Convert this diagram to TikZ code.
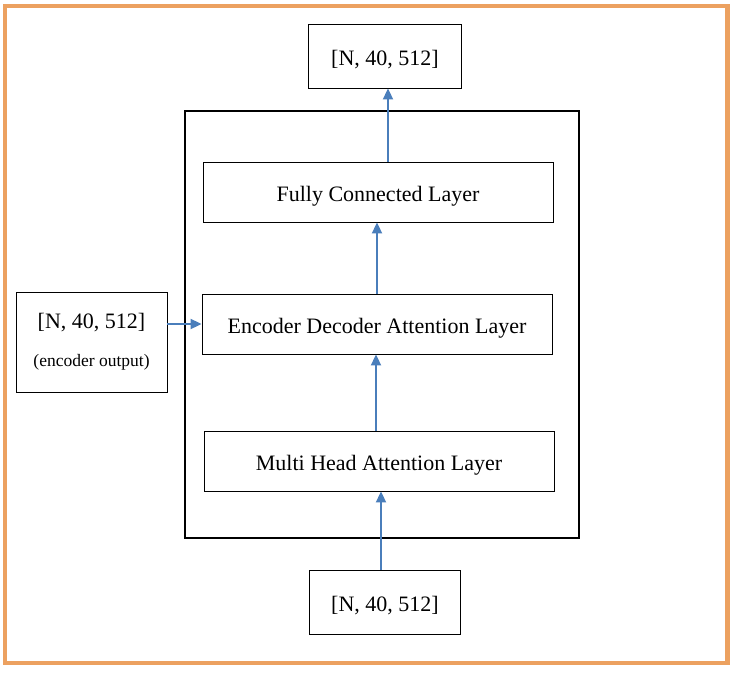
\documentclass[tikz,border=0pt]{standalone}
\usepackage{fontspec}
\setmainfont{Liberation Serif}
\usetikzlibrary{arrows.meta}
\definecolor{frameorange}{RGB}{236,161,96}
\definecolor{linkblue}{RGB}{74,126,187}

\begin{document}
\begin{tikzpicture}[x=1pt,y=-1pt,
		box/.style={draw,line width=0.9pt,inner sep=0pt,font=\fontsize{22}{26}\selectfont,
			text height=19pt,text depth=0pt},
		shapebox/.style={box,minimum width=153pt,minimum height=64pt},
		layer/.style={box,minimum width=350pt,minimum height=60pt},
		link/.style={draw=linkblue,line width=2pt,-{Triangle[length=11pt,width=10pt]}}]
		\useasboundingbox (0,0) rectangle (738,674);
		\draw[frameorange,line width=4.5pt] (5,6) rectangle (727.5,663);
		\draw[line width=2pt] (185,111) rectangle (579,538);
		\node[shapebox] (out) at (385,56) {[N, 40, 512]};
		\node[layer] (fc) at (378,192) {Fully Connected Layer};
		\node[layer] (encdec) at (377,324) {Encoder Decoder Attention Layer};
		\node[layer] (mha) at (379,461) {Multi Head Attention Layer};
		\node[shapebox,minimum width=151pt,minimum height=100pt,align=center,text height=,text depth=] (enc) at (91.5,342)
			{[N, 40, 512]\\[12pt]{\fontsize{17.5}{20}\selectfont (encoder output)}};
		\node[shapebox,minimum width=151pt] (in) at (385,602) {[N, 40, 512]};
		\draw[link] ([xshift=10pt]fc.north) -- ([xshift=10pt]fc.north |- out.south);
		\draw[link] (encdec.north) -- (encdec.north |- fc.south);
		\draw[link] ([xshift=-3pt]mha.north) -- ([xshift=-3pt]mha.north |- encdec.south);
		\draw[link] ([xshift=-4pt]in.north) -- ([xshift=-4pt]in.north |- mha.south);
		\draw[link] (enc.east |- encdec) -- (encdec.west);
	\end{tikzpicture}
\end{document}
